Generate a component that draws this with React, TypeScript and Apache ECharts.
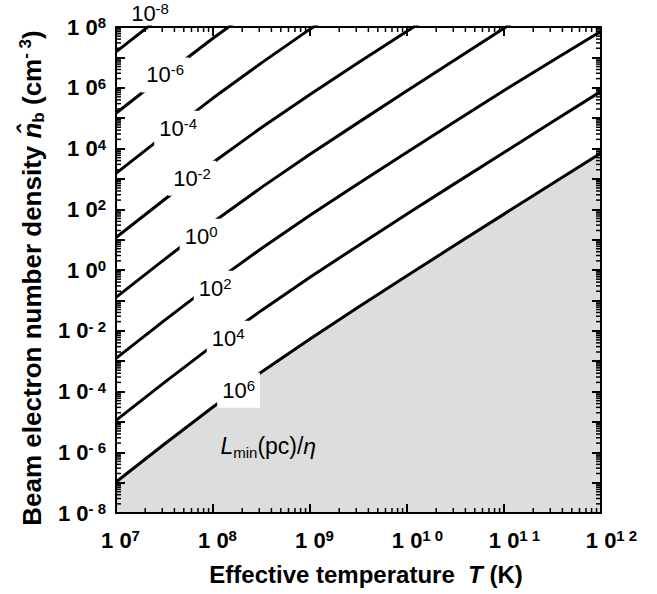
import React, { useEffect, useRef } from 'react';
import * as echarts from 'echarts';

// ---- data (exponents: log10 T in K, log10 n_b in cm^-3) ----
const logT = [7, 7.5, 8, 8.5, 9, 9.5, 10, 10.5, 11, 11.5, 12];
const lineLm8 = [7.18, 8.43, 9.65];
const lineLm6 = [5.16, 6.41, 7.63, 8.78];
const lineLm4 = [3.18, 4.43, 5.66, 6.82, 7.93, 8.98];
const lineLm2 = [1.07, 2.32, 3.54, 4.69, 5.78, 6.83, 7.86, 8.88];
const lineL0 = [-0.9, 0.35, 1.57, 2.72, 3.81, 4.86, 5.9, 6.93, 7.96, 8.99];
const lineL2 = [-2.91, -1.66, -0.44, 0.71, 1.8, 2.85, 3.88, 4.9, 5.91, 6.89, 7.86];
const lineL4 = [-4.95, -3.7, -2.48, -1.33, -0.24, 0.81, 1.84, 2.86, 3.87, 4.88, 5.88];
const lineL6 = [-6.98, -5.73, -4.51, -3.36, -2.27, -1.22, -0.19, 0.83, 1.84, 2.85, 3.85];
const lineSeries = [lineLm8, lineLm6, lineLm4, lineLm2, lineL0, lineL2, lineL4, lineL6];
const lineExps = [-8, -6, -4, -2, 0, 2, 4, 6];
const labelLogT = [7.351, 7.506, 7.64, 7.784, 7.877, 8.022, 8.156, 8.264];
const labelLogN = [8.43, 6.42, 4.67, 3.02, 1.11, -0.6, -2.25, -3.96];
const xTickExp = [7, 8, 9, 10, 11, 12];
const yTickExp = [-8, -6, -4, -2, 0, 2, 4, 6, 8];
const X_MIN = 7, X_MAX = 12, Y_MIN = -8, Y_MAX = 8;

const FONT = '"Liberation Sans", Arial, Helvetica, sans-serif';

const spaced = (e: number) => String(e).split('').join(' ');

export default function App() {
  const ref = useRef<HTMLDivElement>(null);
  useEffect(() => {
    const chart = echarts.init(ref.current!, null, { renderer: 'svg' });
    const tickRich: any = {
      b: { fontFamily: FONT, fontSize: 22, fontWeight: 'bold', lineHeight: 24, color: '#000' },
      b1: { fontFamily: FONT, fontSize: 22, fontWeight: 'bold', lineHeight: 24, color: '#000', padding: [0, 0, 0, 9] },
      b2: { fontFamily: FONT, fontSize: 22, fontWeight: 'bold', lineHeight: 24, color: '#000', padding: [0, 0, 0, 21] },
      s: { fontFamily: FONT, fontSize: 15, fontWeight: 'bold', lineHeight: 15, verticalAlign: 'top', color: '#000' },
    };
    const axisLine = { show: true, onZero: false, lineStyle: { color: '#000', width: 2 } };
    const axisTick = { show: true, inside: true, length: 9, lineStyle: { color: '#000', width: 2 } };

    const minorData: number[][] = [];
    for (let e = X_MIN; e < X_MAX; e++) for (let k = 2; k <= 9; k++) minorData.push([0, e + Math.log10(k)]);
    for (let e = Y_MIN; e < Y_MAX; e++) for (let k = 2; k <= 9; k++) minorData.push([1, e + Math.log10(k)]);

    const series: any[] = lineSeries.map((arr, i) => ({
      type: 'line',
      data: arr.map((v, j) => [logT[j], v]),
      symbol: 'none',
      smooth: false,
      clip: true,
      silent: true,
      z: 5,
      lineStyle: { color: '#000', width: 3, join: 'round' },
      areaStyle: i === lineSeries.length - 1 ? { color: '#dcdddd', opacity: 1, origin: 'start' } : undefined,
    }));
    series.push({
      type: 'custom',
      silent: true,
      z: 12,
      data: minorData,
      renderItem: (params: any, api: any) => {
        const which = api.value(0);
        const v = api.value(1);
        const st = { stroke: '#000', lineWidth: 1.5 };
        if (which === 0) {
          const b = api.coord([v, Y_MIN]);
          const t = api.coord([v, Y_MAX]);
          return {
            type: 'group',
            children: [
              { type: 'line', shape: { x1: b[0], y1: b[1], x2: b[0], y2: b[1] - 5 }, style: st },
              { type: 'line', shape: { x1: t[0], y1: t[1], x2: t[0], y2: t[1] + 5 }, style: st },
            ],
          };
        }
        const l = api.coord([X_MIN, v]);
        const r = api.coord([X_MAX, v]);
        return {
          type: 'group',
          children: [
            { type: 'line', shape: { x1: l[0], y1: l[1], x2: l[0] + 5, y2: l[1] }, style: st },
            { type: 'line', shape: { x1: r[0], y1: r[1], x2: r[0] - 5, y2: r[1] }, style: st },
          ],
        };
      },
    });

    const option: any = {
      animation: false,
      backgroundColor: '#fff',
      textStyle: { fontFamily: FONT },
      grid: { left: 116, top: 27, right: 56, bottom: 81 },
      xAxis: [
        {
          type: 'value', min: X_MIN, max: X_MAX, interval: 1, position: 'bottom', z: 10,
          axisLine, axisTick, splitLine: { show: false },
          axisLabel: {
            margin: 15,
            formatter: (v: number) => (xTickExp.includes(v) ? `{${v >= 10 ? 'b2' : 'b1'}|1 0}{s|${spaced(v)}}` : ''),
            rich: tickRich,
          },
        },
        {
          type: 'value', min: X_MIN, max: X_MAX, interval: 1, position: 'top', z: 10,
          axisLine, axisTick, splitLine: { show: false }, axisLabel: { show: false },
        },
      ],
      yAxis: [
        {
          type: 'value', min: Y_MIN, max: Y_MAX, interval: 1, position: 'left', z: 10,
          axisLine, axisTick, splitLine: { show: false },
          axisLabel: {
            margin: 10,
            formatter: (v: number) => (yTickExp.includes(v) ? `{b|1 0}{s|${spaced(v)}}` : ''),
            rich: tickRich,
          },
        },
        {
          type: 'value', min: Y_MIN, max: Y_MAX, interval: 1, position: 'right', z: 10,
          axisLine, axisTick, splitLine: { show: false }, axisLabel: { show: false },
        },
      ],
      series,
    };
    chart.setOption(option);

    const lblRich = {
      n: { fontFamily: FONT, fontSize: 22, fill: '#000', lineHeight: 25 },
      s: { fontFamily: FONT, fontSize: 15, fill: '#000', lineHeight: 15, verticalAlign: 'top' },
    };
    const graphics: any[] = lineExps.map((e, i) => {
      const p = chart.convertToPixel({ gridIndex: 0 } as any, [labelLogT[i], labelLogN[i]]) as number[];
      return {
        type: 'text', x: p[0], y: p[1], z: 100, silent: true,
        style: {
          text: `{n|10}{s|${e}}`, rich: lblRich, align: 'center', verticalAlign: 'middle',
          backgroundColor: i === 0 ? 'transparent' : '#fff', padding: [5, 5],
        },
      };
    });
    const lp = chart.convertToPixel({ gridIndex: 0 } as any, [8.57, -5.8]) as number[];
    graphics.push({
      type: 'text', x: lp[0], y: lp[1], z: 100, silent: true,
      style: {
        text: '{i|L}{sb|min}{n|(pc)/}{i|η}',
        align: 'center', verticalAlign: 'middle',
        rich: {
          i: { fontFamily: FONT, fontSize: 23, fontStyle: 'italic', fill: '#000', lineHeight: 28 },
          n: { fontFamily: FONT, fontSize: 23, fill: '#000', lineHeight: 28 },
          sb: { fontFamily: FONT, fontSize: 15, fill: '#000', lineHeight: 15, verticalAlign: 'bottom' },
        },
      },
    });
    graphics.push({
      type: 'text', x: 366, y: 574, z: 100, silent: true,
      style: {
        text: '{b|Effective temperature  }{bi|T}{b| (K)}',
        align: 'center', verticalAlign: 'middle',
        rich: {
          b: { fontFamily: FONT, fontSize: 24, fontWeight: 'bold', fill: '#000', lineHeight: 28 },
          bi: { fontFamily: FONT, fontSize: 24, fontWeight: 'bold', fontStyle: 'italic', fill: '#000', lineHeight: 28 },
        },
      },
    });
    graphics.push({
      type: 'text', x: 32, y: 278, rotation: Math.PI / 2, z: 100, silent: true,
      style: {
        text: '{b|Beam electron number density }{bi|n\u0302}{sb|b}{b| (cm}{sp|- 3}{b|)}',
        align: 'center', verticalAlign: 'middle',
        rich: {
          b: { fontFamily: FONT, fontSize: 26, fontWeight: 'bold', fill: '#000', lineHeight: 30 },
          bi: { fontFamily: FONT, fontSize: 26, fontWeight: 'bold', fontStyle: 'italic', fill: '#000', lineHeight: 30 },
          sb: { fontFamily: FONT, fontSize: 17, fontWeight: 'bold', fill: '#000', lineHeight: 17, verticalAlign: 'bottom' },
          sp: { fontFamily: FONT, fontSize: 17, fontWeight: 'bold', fill: '#000', lineHeight: 17, verticalAlign: 'top' },
        },
      },
    });
    chart.setOption({ graphic: graphics });

    return () => chart.dispose();
  }, []);
  return <div ref={ref} style={{ position: 'fixed', left: 0, top: 0, width: 657, height: 594 }} />;
}
